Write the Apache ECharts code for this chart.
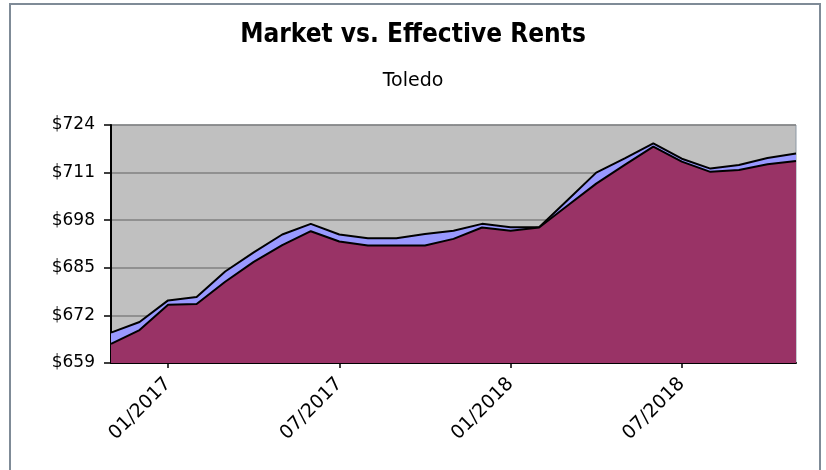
<!DOCTYPE html>
<html>
<head>
<meta charset="utf-8">
<script src="https://cdn.jsdelivr.net/npm/echarts@6/dist/echarts.min.js"></script>
<style>
  html, body { margin: 0; padding: 0; background: #fff; }
  #frame { position: absolute; left: 9px; top: 3px; width: 808px; height: 480px;
           border: 2px solid #7f8b97; border-bottom: none; }
  #chart { width: 826px; height: 470px; }
</style>
</head>
<body>
<div id="frame"></div>
<div id="chart"></div>
<script>
// monthly points 11/2016 .. 11/2018
var months = [
  "11/2016", "12/2016",
  "01/2017", "02/2017", "03/2017", "04/2017", "05/2017", "06/2017",
  "07/2017", "08/2017", "09/2017", "10/2017", "11/2017", "12/2017",
  "01/2018", "02/2018", "03/2018", "04/2018", "05/2018", "06/2018",
  "07/2018", "08/2018", "09/2018", "10/2018", "11/2018"
];
var marketRent = [
  667.3, 670.2, 676.1, 677.0, 684.0, 689.2, 694.1, 697.0,
  694.1, 693.1, 693.1, 694.2, 695.1, 697.0, 696.1, 696.1,
  703.5, 711.0, 714.9, 719.0, 714.8, 712.1, 713.1, 715.0, 716.2
];
var effectiveRent = [
  664.2, 668.0, 674.9, 675.1, 681.2, 686.6, 691.2, 695.0,
  692.2, 691.1, 691.1, 691.1, 692.9, 696.0, 695.1, 696.0,
  702.0, 708.0, 713.1, 718.1, 714.0, 711.2, 711.7, 713.3, 714.2
];
var labelIdx = [2, 8, 14, 20];

var chart = echarts.init(document.getElementById("chart"));
var font = "DejaVu Sans";

var option = {
  animation: false,
  title: [
    {
      text: "Market vs. Effective Rents",
      left: "center",
      top: 17,
      textStyle: {
        fontFamily: "'DejaVu Sans Condensed', 'DejaVu Sans'",
        fontWeight: "bold", fontSize: 26, color: "#000"
      }
    },
    {
      text: "Toledo",
      left: "center",
      top: 67,
      textStyle: { fontFamily: font, fontWeight: "normal", fontSize: 19, color: "#000" }
    }
  ],
  grid: {
    left: 111,
    right: 30,
    top: 125,
    bottom: 107,
    show: true,
    backgroundColor: "#c0c0c0",
    borderColor: "#8d99a5",
    borderWidth: 1
  },
  xAxis: {
    type: "category",
    boundaryGap: false,
    data: months,
    axisLine: { lineStyle: { color: "#000", width: 2 } },
    axisTick: {
      show: true,
      length: 5,
      lineStyle: { color: "#000", width: 1.5 },
      interval: function (i) { return labelIdx.indexOf(i) >= 0; }
    },
    axisLabel: {
      rotate: 45,
      margin: 18,
      fontFamily: font,
      fontSize: 19,
      color: "#000",
      interval: function (i) { return labelIdx.indexOf(i) >= 0; }
    },
    splitLine: { show: false }
  },
  yAxis: {
    type: "value",
    min: 659,
    max: 724,
    interval: 13,
    axisLine: { show: true, lineStyle: { color: "#000", width: 2 } },
    axisTick: { show: true, length: 7, lineStyle: { color: "#000", width: 1.5 } },
    axisLabel: {
      margin: 16,
      fontFamily: font,
      fontSize: 17,
      color: "#000",
      formatter: function (v) { return "$" + v; }
    },
    splitLine: { lineStyle: { color: "#808080", width: 1.5 } }
  },
  series: [
    {
      name: "Market Rent",
      type: "line",
      data: marketRent,
      symbol: "none",
      lineStyle: { color: "#000", width: 2 },
      areaStyle: { color: "#9999ff", opacity: 1 },
      z: 2
    },
    {
      name: "Effective Rent",
      type: "line",
      data: effectiveRent,
      symbol: "none",
      lineStyle: { color: "#000", width: 2 },
      areaStyle: { color: "#993366", opacity: 1 },
      z: 3
    }
  ]
};
chart.setOption(option);
</script>
</body>
</html>
